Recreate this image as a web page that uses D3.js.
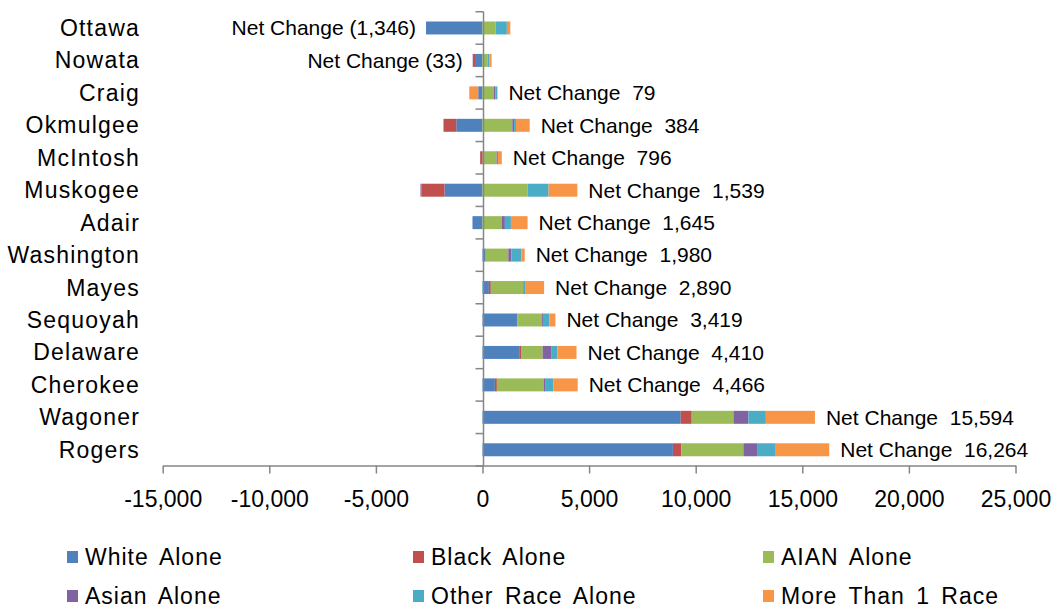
<!DOCTYPE html>
<html>
<head>
<meta charset="utf-8">
<script src="https://cdn.jsdelivr.net/npm/d3@7"></script>
<style>
  body { margin: 0; background: #fff; }
  svg { font-family: "Liberation Sans", Arial, sans-serif; }
</style>
</head>
<body>
<svg id="chart" width="1053" height="609"></svg>
<script>
// ---- Data ----
const counties = ["Ottawa", "Nowata", "Craig", "Okmulgee", "McIntosh", "Muskogee", "Adair",
  "Washington", "Mayes", "Sequoyah", "Delaware", "Cherokee", "Wagoner", "Rogers"];
const whiteAlone = [-2650, -350, -200, -1230, 60, -1780, -470, 150, 300, 1630, 1723, 580, 9296, 8930];
const blackAlone = [0, -50, 0, -600, -110, -1090, 0, 0, 90, 0, 110, 94, 517, 392];
const aianAlone  = [611, 235, 540, 1400, 600, 2120, 893, 1060, 1513, 1165, 987, 2195, 1958, 2914];
const asianAlone = [0, -60, 70, 80, 60, -40, 157, 150, 0, 78, 423, 94, 705, 642];
const otherAlone = [533, 80, 89, 90, 0, 980, 282, 465, 94, 264, 266, 360, 815, 877];
const moreThan1  = [160, 112, -420, 644, 186, 1349, 783, 155, 893, 282, 901, 1143, 2303, 2509];
const netChange  = [-1346, -33, 79, 384, 796, 1539, 1645, 1980, 2890, 3419, 4410, 4466, 15594, 16264];
const seriesNames = ["White Alone", "Black Alone", "AIAN Alone", "Asian Alone", "Other Race Alone", "More Than 1 Race"];
const xTicks = [-15000, -10000, -5000, 0, 5000, 10000, 15000, 20000, 25000];

const colors = ["#4F81BD", "#C0504D", "#9BBB59", "#8064A2", "#4BACC6", "#F79646"];
const seriesArrays = [whiteAlone, blackAlone, aianAlone, asianAlone, otherAlone, moreThan1];

const rows = counties.map((c, i) => {
  const r = { county: c, net: netChange[i] };
  seriesNames.forEach((s, k) => r[s] = seriesArrays[k][i]);
  return r;
});

// ---- Layout ----
const svg = d3.select("#chart");
const plotTop = 11.75, plotBottom = 466;
const axisColor = "#868686";

const x = d3.scaleLinear().domain([-15000, 25000]).range([162.7, 1015.5]);
const y = d3.scaleBand().domain(counties).range([plotTop, plotBottom])
  .paddingInner(0.6).paddingOuter(0.3);

const stack = d3.stack().keys(seriesNames).offset(d3.stackOffsetDiverging);
const stacked = stack(rows);

// hyphen minus, like the original
const fmt = d3.formatLocale({ decimal: ".", thousands: ",", grouping: [3], currency: ["", ""], minus: "-" }).format(",");

// ---- Bars ----
const g = svg.append("g");
g.selectAll("g.series")
  .data(stacked)
  .join("g")
  .attr("class", "series")
  .attr("fill", (d, i) => colors[i])
  .selectAll("rect")
  .data(d => d)
  .join("rect")
  .attr("x", d => x(Math.min(d[0], d[1])))
  .attr("width", d => Math.abs(x(d[1]) - x(d[0])))
  .attr("y", d => y(d.data.county))
  .attr("height", y.bandwidth());

// ---- Category axis ----
const step = y.step();
const zeroX = Math.round(x(0)) + 0.5;
g.append("line")
  .attr("x1", zeroX).attr("x2", zeroX)
  .attr("y1", plotTop).attr("y2", plotBottom)
  .attr("stroke", axisColor).attr("stroke-width", 1.5);
d3.range(counties.length + 1).forEach(i => {
  const yy = plotTop + i * step;
  g.append("line")
    .attr("x1", zeroX - 8).attr("x2", zeroX)
    .attr("y1", yy).attr("y2", yy)
    .attr("stroke", axisColor).attr("stroke-width", 1.5);
});

svg.append("g").selectAll("text.cat")
  .data(counties)
  .join("text")
  .attr("class", "cat")
  .attr("x", 140)
  .attr("y", d => y(d) + y.bandwidth() / 2)
  .attr("dy", "0.35em")
  .attr("text-anchor", "end")
  .attr("font-size", 23)
  .attr("letter-spacing", 1.2)
  .attr("fill", "#000")
  .text(d => d);

// ---- Net change labels ----
svg.append("g").selectAll("text.net")
  .data(stacked[0].map((d, i) => {
    let lo = 0, hi = 0;
    stacked.forEach(s => { lo = Math.min(lo, s[i][0], s[i][1]); hi = Math.max(hi, s[i][0], s[i][1]); });
    return { county: counties[i], net: netChange[i], lo, hi };
  }))
  .join("text")
  .attr("class", "net")
  .attr("x", d => d.net < 0 ? x(d.lo) - 10 : x(d.hi) + 11)
  .attr("y", d => y(d.county) + y.bandwidth() / 2)
  .attr("dy", "0.35em")
  .attr("text-anchor", d => d.net < 0 ? "end" : "start")
  .attr("font-size", 21)
  .attr("fill", "#000")
  .attr("xml:space", "preserve")
  .text(d => d.net < 0 ? `Net Change (${fmt(-d.net)})` : `Net Change  ${fmt(d.net)}`);

// ---- Value axis ----
const xAxis = d3.axisBottom(x)
  .tickValues(xTicks)
  .tickFormat(fmt)
  .tickSize(8)
  .tickSizeOuter(0)
  .tickPadding(17);

const ax = svg.append("g")
  .attr("transform", `translate(0,${plotBottom - 0.5})`)
  .call(xAxis);
ax.select(".domain").attr("stroke", axisColor).attr("stroke-width", 1.5);
ax.selectAll(".tick line").attr("stroke", axisColor).attr("stroke-width", 1.5);
ax.selectAll(".tick text")
  .attr("font-size", 23)
  .attr("font-family", "'Liberation Sans', Arial, sans-serif")
  .attr("fill", "#000");

// ---- Legend ----
const legendCols = [67, 413, 763];
const legendRows = [557, 596];
const legend = svg.append("g").selectAll("g.leg")
  .data(seriesNames)
  .join("g")
  .attr("class", "leg")
  .attr("transform", (d, i) => `translate(${legendCols[i % 3]},${legendRows[Math.floor(i / 3)]})`);
legend.append("rect")
  .attr("x", 0).attr("y", -6)
  .attr("width", 11).attr("height", 12)
  .attr("fill", (d, i) => colors[i]);
legend.append("text")
  .attr("x", 18)
  .attr("dy", "0.35em")
  .attr("font-size", 23)
  .attr("letter-spacing", 1)
  .attr("word-spacing", 4)
  .attr("fill", "#000")
  .text(d => d);
</script>
</body>
</html>
